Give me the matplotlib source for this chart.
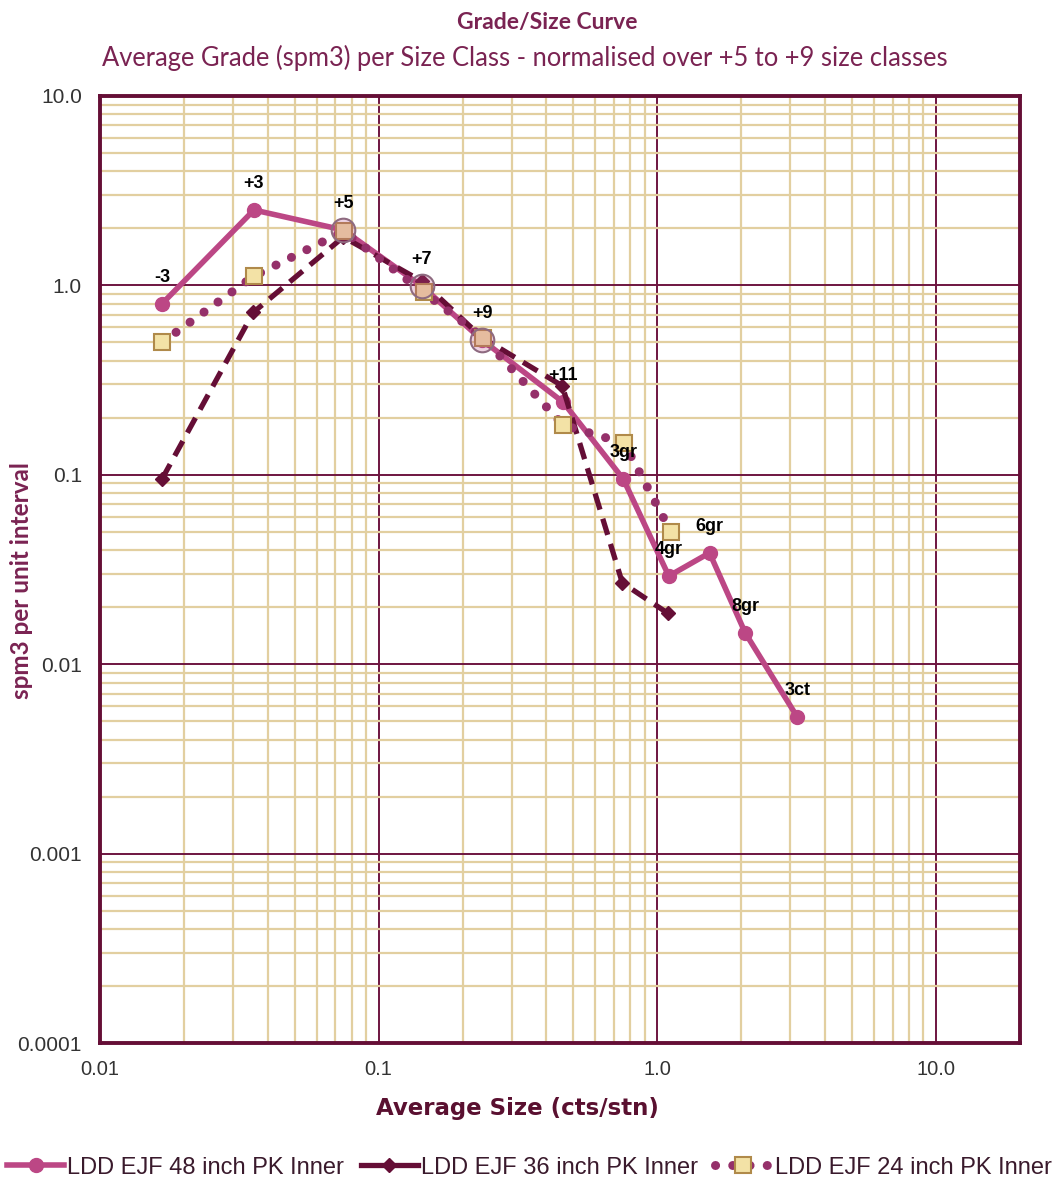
import numpy as np
import matplotlib
matplotlib.use("Agg")
import matplotlib.pyplot as plt
from matplotlib.lines import Line2D
from matplotlib.ticker import FixedLocator, LogLocator, NullFormatter

# size classes labelled on the 48 inch curve
class_labels = ["-3", "+3", "+5", "+7", "+9", "+11", "3gr", "4gr", "6gr", "8gr", "3ct"]

size_48 = [0.0167, 0.0357, 0.0747, 0.143, 0.235, 0.459, 0.755, 1.10, 1.54, 2.07, 3.18]
grade_48 = [0.80, 2.50, 1.96, 0.99, 0.515, 0.242, 0.095, 0.0292, 0.0387, 0.0146, 0.00526]
norm_idx = [2, 3, 4]  # +5 to +9 classes (ringed)

size_36 = [0.0167, 0.0355, 0.0747, 0.143, 0.235, 0.456, 0.749, 1.09]
grade_36 = [0.095, 0.72, 1.80, 1.05, 0.53, 0.295, 0.0269, 0.0186]

size_24 = [0.0167, 0.0357, 0.0750, 0.145, 0.237, 0.459, 0.760, 1.12]
grade_24 = [0.50, 1.12, 1.93, 0.92, 0.53, 0.183, 0.147, 0.0499]

x_ticks = [0.01, 0.1, 1.0, 10.0]
x_tick_labels = ["0.01", "0.1", "1.0", "10.0"]
y_ticks = [0.0001, 0.001, 0.01, 0.1, 1.0, 10.0]
y_tick_labels = ["0.0001", "0.001", "0.01", "0.1", "1.0", "10.0"]

maroon = "#6E1540"
title_col = "#7A2352"
pink = "#BC4785"
dark = "#650E36"
mid = "#95306A"
tan = "#E2CFA0"

fig = plt.figure(figsize=(10.59, 11.83), dpi=100)
ax = fig.add_axes([0.0944, 0.1183, 0.8686, 0.8006])

ax.set_xscale("log")
ax.set_yscale("log")
ax.set_xlim(0.01, 20)
ax.set_ylim(0.0001, 10)

ax.xaxis.set_major_locator(FixedLocator(x_ticks))
ax.set_xticklabels(x_tick_labels)
ax.yaxis.set_major_locator(FixedLocator(y_ticks))
ax.set_yticklabels(y_tick_labels)
ax.xaxis.set_minor_locator(LogLocator(base=10, subs=np.arange(2, 10)))
ax.yaxis.set_minor_locator(LogLocator(base=10, subs=np.arange(2, 10)))
ax.xaxis.set_minor_formatter(NullFormatter())
ax.yaxis.set_minor_formatter(NullFormatter())

ax.grid(which="minor", color=tan, lw=1.6, zorder=0)
ax.grid(which="major", color=maroon, lw=1.4, zorder=0.5)
ax.set_axisbelow(True)
ax.tick_params(which="both", length=0)
ax.tick_params(axis="x", pad=12, labelsize=14.5, labelcolor="#333333")
ax.tick_params(axis="y", pad=13, labelsize=15, labelcolor="#333333")
for lbl in ax.get_xticklabels() + ax.get_yticklabels():
    lbl.set_family("Liberation Sans")
for sp in ax.spines.values():
    sp.set_color(dark)
    sp.set_linewidth(2.8)

ax.plot(size_48, grade_48, color=pink, lw=4, marker="o", ms=10,
        mfc=pink, mec=pink, zorder=3, solid_capstyle="round")
ax.plot(size_36, grade_36, color=dark, lw=3.8, ls=(0, (3.2, 1.8)), marker="D",
        ms=7, mfc=dark, mec=dark, zorder=4)
ax.plot(size_24, grade_24, color=mid, lw=6.5, ls=(0, (0.01, 1.9)),
        dash_capstyle="round", marker=None, zorder=5)
ax.plot(size_24, grade_24, ls="none", marker="s", ms=11, mfc="#F3E2A6",
        mec="#B08A4A", mew=1.5, zorder=6)

# rings on the normalisation classes
ax.plot([size_48[i] for i in norm_idx], [grade_48[i] for i in norm_idx],
        ls="none", marker="o", ms=17, mfc=(0.75, 0.3, 0.55, 0.25),
        mec="#8E6A80", mew=1.5, zorder=7)

for lab, xv, yv in zip(class_labels, size_48, grade_48):
    ax.annotate(lab, (xv, yv), xytext=(0, 19), textcoords="offset points",
                ha="center", va="center", fontsize=13, fontweight="bold",
                family="Liberation Sans", color="black", zorder=8)

fig.text(0.517, 0.981, "Grade/Size Curve", ha="center", va="center",
         fontsize=16.5, fontweight="bold", color=title_col, family="Lato")
fig.text(0.496, 0.951, "Average Grade (spm3) per Size Class - normalised over +5 to +9 size classes",
         ha="center", va="center", fontsize=18.4, color=title_col, family="Lato")

fig.text(517 / 1059, 1 - 1108 / 1183, "Average Size (cts/stn)", ha="center", va="center",
         fontsize=16.5, fontweight="bold", color="#5A1030", family="DejaVu Sans")
fig.text(22 / 1059, 1 - 581 / 1183, "spm3 per unit interval", ha="center", va="center",
         rotation=90, fontsize=17.5, fontweight="bold", color=title_col, family="Lato")

handles = [
    Line2D([], [], color=pink, lw=4, marker="o", ms=10, mfc=pink, mec=pink),
    Line2D([], [], color=dark, lw=3.8, marker="D", ms=7, mfc=dark, mec=dark),
    Line2D([], [], color=mid, lw=6.5, ls=(0, (0.01, 1.9)), dash_capstyle="round",
           marker="s", ms=11, mfc="#F3E2A6", mec="#B08A4A", mew=1.5),
]
names = ["LDD EJF 48 inch PK Inner", "LDD EJF 36 inch PK Inner", "LDD EJF 24 inch PK Inner"]
fig.legend(handles, names, loc="center", bbox_to_anchor=(0.5, 0.013), ncol=3,
           frameon=False, handlelength=2.4, handletextpad=0.15, columnspacing=0.7,
           prop={"family": "Liberation Sans", "size": 17}, labelcolor="#3a1a2c")

fig.savefig("out.png", dpi=100)
